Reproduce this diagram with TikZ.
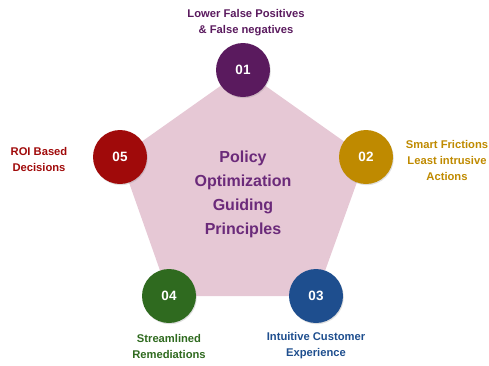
\documentclass[tikz,border=0pt]{standalone}
\usepackage{fontspec}
\setmainfont{Liberation Sans}
\usetikzlibrary{shadows}
\definecolor{cpurple}{HTML}{5A1A5E}
\definecolor{cgold}{HTML}{BF8A00}
\definecolor{cblue}{HTML}{1E4E8E}
\definecolor{cgreen}{HTML}{2F6A1F}
\definecolor{cred}{HTML}{A00A0A}
\definecolor{cpent}{HTML}{E6C8D5}
\definecolor{ctitle}{HTML}{6B2A7A}
\tikzset{
  numdot/.style={circle, minimum size=54pt, inner sep=0pt, text=white,
    font=\bfseries\fontsize{13.5}{15}\selectfont,
    drop shadow={shadow xshift=0.8pt, shadow yshift=-1.2pt, opacity=0.25}},
  caption/.style={align=center, font=\bfseries\fontsize{11.2}{16}\selectfont, inner sep=0pt},
  title/.style={align=center, text=ctitle, font=\bfseries\fontsize{16}{24}\selectfont, inner sep=0pt}
}
\begin{document}
\begin{tikzpicture}[x=1pt,y=-1pt]
\useasboundingbox (0,0) rectangle (489,365);
% corner coordinates of the pentagon
\coordinate (p1) at (243,70);
\coordinate (p2) at (366,157);
\coordinate (p3) at (316,296);
\coordinate (p4) at (169,296);
\coordinate (p5) at (120,157);
\fill[cpent] (p1) -- (p2) -- (p3) -- (p4) -- (p5) -- cycle;
\node[title] (t) at (243,194) {Policy\\Optimization\\Guiding\\Principles};
% numbered dots on the corners
\node[numdot, fill=cpurple] (n1) at (p1) {01};
\node[numdot, fill=cgold]   (n2) at (p2) {02};
\node[numdot, fill=cblue]   (n3) at (p3) {03};
\node[numdot, fill=cgreen]  (n4) at (p4) {04};
\node[numdot, fill=cred]    (n5) at (p5) {05};
% captions
\node[caption, text=cpurple] (c1) at (246,23) {Lower False Positives\\\& False negatives};
\node[caption, text=cgold]   (c2) at (447,160) {Smart Frictions\\Least intrusive\\Actions};
\node[caption, text=cblue]   (c3) at (316,346) {Intuitive Customer\\Experience};
\node[caption, text=cgreen]  (c4) at (169,346) {Streamlined\\Remediations};
\node[caption, text=cred]    (c5) at (39,159) {ROI Based\\Decisions};
\end{tikzpicture}
\end{document}
